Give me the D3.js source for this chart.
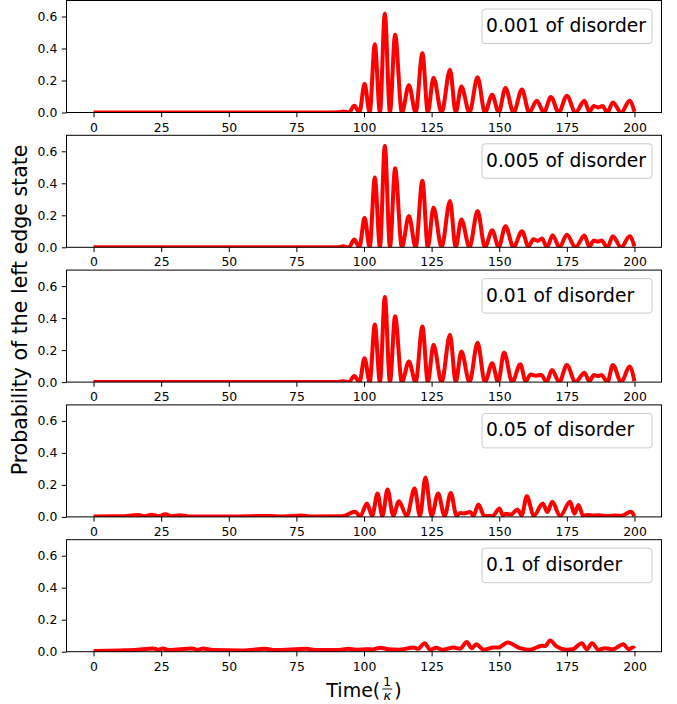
<!DOCTYPE html>
<html>
<head>
<meta charset="utf-8">
<script src="https://cdn.jsdelivr.net/npm/d3@7"></script>
<style>
  body { margin: 0; background: #fff; }
  text { font-family: "DejaVu Sans", sans-serif; }
</style>
</head>
<body>
<svg id="chart"></svg>
<script>
// data: [time, probability] at the peaks and troughs
var labels = ["0.001 of disorder", "0.005 of disorder", "0.01 of disorder", "0.05 of disorder", "0.1 of disorder"];
var xTicks = [0, 25, 50, 75, 100, 125, 150, 175, 200];
var yTicks = [0, 0.2, 0.4, 0.6];

var d001 = [[0,0],[88,0],[90.5,0.001],[92.4,0.006],[94.4,0],[96.4,0.042],[98.3,0],[100.2,0.179],[102.1,0],[104,0.427],[105.9,0],
  [107.7,0.618],[109.6,0],[111.5,0.486],[114,0],[116.6,0.17],[119.1,0],[121.6,0.37],[123.6,0],[125.7,0.217],[128.7,0],
  [131.8,0.267],[133.9,0],[136,0.162],[139,0],[142,0.221],[144.7,0],[147.4,0.111],[149.8,0],[152.3,0.153],[155.3,0],
  [158.4,0.143],[161.1,0],[163.9,0.074],[166.5,0],[169.1,0.097],[172,0],[175,0.105],[178.2,0],[181.5,0.074],[183.3,0.005],
  [185,0.04],[186.6,0.032],[188.2,0.04],[190,0],[192,0.063],[195.1,0],[198.2,0.074],[200,0.005]];

var d005 = [[0,0],[88,0],[90.5,0.001],[92.4,0.006],[94.4,0],[96.4,0.048],[98.3,0],[100.2,0.185],[102.1,0],[104,0.437],[105.9,0],
  [107.7,0.635],[109.6,0],[111.5,0.494],[114,0],[116.6,0.195],[119.1,0],[121.6,0.416],[123.6,0],[125.7,0.248],[128.7,0],
  [131.8,0.29],[133.9,0],[136,0.174],[139,0],[142,0.227],[144.7,0],[147.4,0.107],[149.8,0],[152.3,0.132],[155.3,0],
  [158.4,0.101],[160.8,0.005],[162.6,0.05],[164.2,0.04],[165.8,0.055],[167.7,0],[169.7,0.076],[172.3,0],[175,0.078],[178.2,0],
  [181.5,0.074],[183.3,0.005],[185,0.042],[186.4,0.035],[187.8,0.042],[190,0],[192,0.069],[195.1,0],[198.2,0.069],[200,0.005]];

var d01 = [[0,0],[88,0],[90.5,0.001],[92.4,0.006],[94.4,0],[96.4,0.038],[98.3,0],[100.2,0.149],[102.1,0],[104,0.36],[105.9,0],
  [107.7,0.532],[109.6,0],[111.5,0.412],[114,0],[116.6,0.128],[119.1,0],[121.6,0.347],[123.6,0],[125.7,0.233],[128.7,0],
  [131.8,0.296],[133.9,0],[136,0.191],[139,0],[142,0.246],[144.7,0],[147.4,0.118],[149.6,0],[151.8,0.185],[154.8,0],
  [157.8,0.111],[159.8,0.005],[161.6,0.048],[163.6,0.04],[165.6,0.045],[167.5,0],[169.5,0.076],[172.2,0],[175,0.107],[178.2,0],
  [181.5,0.059],[183.3,0.005],[185,0.044],[186.4,0.038],[187.8,0.044],[190,0],[192,0.107],[195.1,0],[198.2,0.097],[200,0.005]];

var d05 = [[0,0.003],[10,0.004],[16.6,0.012],[19,0.004],[21.5,0.014],[24,0.004],[26.5,0.016],[29,0.004],[32.1,0.01],[36,0.003],
  [50,0.003],[65,0.006],[70,0.003],[77,0.008],[80,0.003],[92,0.004],[96.7,0.032],[98.6,0.004],[101.1,0.084],[103,0.005],
  [105,0.146],[106.8,0.005],[108.7,0.171],[110.8,0.008],[112.9,0.098],[115.8,0.005],[118.7,0.177],[120.7,0.005],[122.7,0.246],
  [125,0.005],[127.4,0.146],[129.8,0.005],[132.1,0.15],[134.2,0.008],[135.6,0.025],[137,0.022],[138,0.026],[139.3,0.03],
  [140.5,0.008],[142.3,0.078],[144.5,0.005],[147.5,0.005],[150.1,0.053],[151.3,0.01],[152.5,0.02],[154.4,0.015],[156.7,0.047],
  [158.3,0.01],[160.2,0.129],[162.8,0.008],[166.1,0.084],[167.8,0.03],[169.6,0.094],[172.5,0.005],[176.2,0.094],[177.8,0.02],
  [179.3,0.074],[181,0.008],[183,0.012],[185,0.008],[187,0.01],[190,0.005],[193,0.008],[195,0.006],[198.7,0.032],[200,0.005]];

var d1 = [[0,0.005],[10,0.008],[15,0.01],[22.2,0.02],[24,0.012],[25.6,0.02],[28,0.01],[36.4,0.02],[38.5,0.012],[40.5,0.02],
  [44,0.01],[55,0.008],[63.5,0.018],[67,0.01],[78.9,0.018],[82,0.01],[90,0.01],[94.3,0.018],[97,0.012],[101,0.016],[103,0.014],
  [106,0.025],[109,0.015],[113,0.012],[118.3,0.027],[120,0.018],[122.4,0.053],[124.5,0.012],[126.7,0.025],[129,0.012],
  [133.1,0.027],[135.5,0.018],[138,0.06],[139.8,0.022],[141.5,0.047],[144.2,0.012],[147.9,0.027],[149.8,0.027],[153.1,0.058],
  [157.7,0.022],[161.4,0.012],[165.8,0.037],[167,0.035],[168.8,0.07],[171.2,0.033],[174.9,0.012],[177.2,0.015],[180.5,0.053],
  [182.4,0.015],[184.3,0.053],[186.7,0.012],[189.2,0.022],[192,0.015],[195.9,0.047],[197.8,0.015],[199.6,0.027],[200,0.02]];

var series = [d001, d005, d01, d05, d1];

// layout
var width = 677, height = 704;
var left = 66.5, right = 661.5, top0 = 0.5, panelH = 112, step = 134.8;

var svg = d3.select('#chart').attr('width', width).attr('height', height);

var x = d3.scaleLinear().domain([-10, 210]).range([left, right]);

series.forEach(function(data, i){
  var top = top0 + i * step;
  var y = d3.scaleLinear().domain([0, 0.7]).range([top + panelH, top]);

  svg.append('clipPath').attr('id', 'clip' + i)
    .append('rect')
    .attr('x', left).attr('y', top)
    .attr('width', right - left).attr('height', panelH);

  var line = d3.line()
    .x(d => x(d[0]))
    .y(d => y(d[1]))
    .curve(d3.curveMonotoneX);

  svg.append('path')
    .datum(data)
    .attr('clip-path', 'url(#clip' + i + ')')
    .attr('fill', 'none')
    .attr('stroke', '#ff0000')
    .attr('stroke-width', 4)
    .attr('stroke-linejoin', 'round')
    .attr('d', line);

  // x axis
  var gx = svg.append('g')
    .attr('transform', 'translate(0,' + (top + panelH) + ')')
    .call(d3.axisBottom(x).tickValues(xTicks).tickSize(4.7).tickSizeOuter(0).tickPadding(5.5));
  // y axis
  var gy = svg.append('g')
    .attr('transform', 'translate(' + left + ',0)')
    .call(d3.axisLeft(y).tickValues(yTicks).tickFormat(d3.format('.1f')).tickSize(4.7).tickSizeOuter(0).tickPadding(4.5));

  [gx, gy].forEach(function(g){
    g.select('.domain').remove();
    g.selectAll('line').attr('stroke', '#000').attr('stroke-width', 1);
    g.selectAll('text').attr('fill', '#000').style('font-size', '12.4px').style('font-family', '"DejaVu Sans", sans-serif');
  });

  // frame
  svg.append('rect')
    .attr('x', left).attr('y', top)
    .attr('width', right - left).attr('height', panelH)
    .attr('fill', 'none').attr('stroke', '#000').attr('stroke-width', 1);

  // legend box
  svg.append('rect')
    .attr('x', 482).attr('y', top + 8.5)
    .attr('width', 170).attr('height', 34.5)
    .attr('rx', 3)
    .attr('fill', '#fff').attr('fill-opacity', 0.8)
    .attr('stroke', '#cccccc').attr('stroke-width', 1);
  svg.append('text')
    .attr('x', 486).attr('y', top + 31.5)
    .style('font-size', '18.7px')
    .attr('fill', '#000')
    .text(labels[i]);
});

// y label
svg.append('text')
  .attr('transform', 'translate(27,310) rotate(-90)')
  .attr('text-anchor', 'middle')
  .style('font-size', '20.5px')
  .text('Probability of the left edge state');

// x label: Time(1/kappa)
var xl = svg.append('g');
var t1 = xl.append('text').attr('y', 697).style('font-size', '19px').text('Time(');
var w1 = t1.node().getComputedTextLength();
var num = xl.append('text').attr('x', w1 + 7).attr('y', 686).attr('text-anchor', 'middle').style('font-size', '13px').text('1');
var den = xl.append('text').attr('x', w1 + 7).attr('y', 700).attr('text-anchor', 'middle').style('font-size', '13px').style('font-style', 'italic').text('κ');
xl.append('line').attr('x1', w1 + 2).attr('x2', w1 + 12).attr('y1', 689).attr('y2', 689).attr('stroke', '#000').attr('stroke-width', 0.9);
var t2 = xl.append('text').attr('x', w1 + 14).attr('y', 697).style('font-size', '19px').text(')');
var wAll = w1 + 14 + t2.node().getComputedTextLength();
xl.attr('transform', 'translate(' + ((left + right) / 2 - wAll / 2) + ',0)');
</script>
</body>
</html>
